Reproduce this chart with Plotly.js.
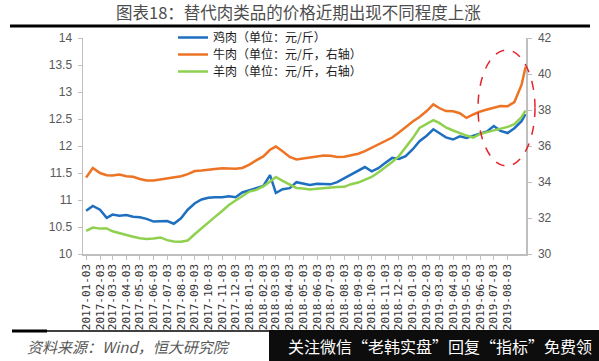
<!DOCTYPE html>
<html>
<head>
<meta charset="utf-8">
<script src="https://cdn.plot.ly/plotly-3.0.1.min.js"></script>
<style>
html,body{margin:0;padding:0;background:#fff;}
#chart{width:599px;height:361px;}
</style>
</head>
<body>
<div id="chart"></div>
<script>
const dates = [
'2017-01-03','2017-01-18','2017-02-03','2017-02-18','2017-03-03','2017-03-18','2017-04-03','2017-04-18',
'2017-05-03','2017-05-18','2017-06-03','2017-06-18','2017-07-03','2017-07-18','2017-08-03','2017-08-18',
'2017-09-03','2017-09-18','2017-10-03','2017-10-18','2017-11-03','2017-11-18','2017-12-03','2017-12-18',
'2018-01-03','2018-01-18','2018-02-03','2018-02-18','2018-03-03','2018-03-18','2018-04-03','2018-04-18',
'2018-05-03','2018-05-18','2018-06-03','2018-06-18','2018-07-03','2018-07-18','2018-08-03','2018-08-18',
'2018-09-03','2018-09-18','2018-10-03','2018-10-18','2018-11-03','2018-11-18','2018-12-03','2018-12-18',
'2019-01-03','2019-01-18','2019-02-03','2019-02-18','2019-03-03','2019-03-18','2019-04-03','2019-04-18',
'2019-05-03','2019-05-18','2019-06-03','2019-06-18','2019-07-03','2019-07-18','2019-08-03','2019-08-18',
'2019-09-03','2019-09-12'
];

// 鸡肉 (left axis)
const chicken = [
10.80,10.89,10.82,10.67,10.73,10.71,10.72,10.69,10.68,10.65,10.60,10.61,10.61,10.56,10.66,10.82,
10.94,11.01,11.04,11.05,11.05,11.07,11.05,11.14,11.18,11.21,11.26,11.46,11.13,11.20,11.22,11.33,
11.30,11.28,11.30,11.30,11.29,11.33,11.40,11.47,11.54,11.61,11.53,11.59,11.69,11.78,11.76,11.81,
11.94,12.09,12.19,12.31,12.24,12.16,12.12,12.18,12.15,12.19,12.24,12.27,12.37,12.28,12.24,12.33,
12.46,12.59
];

// 牛肉 (right axis)
const beef = [
34.25,34.78,34.50,34.38,34.36,34.42,34.32,34.29,34.17,34.08,34.09,34.14,34.18,34.27,34.32,34.44,
34.61,34.64,34.66,34.72,34.76,34.76,34.73,34.78,34.97,35.20,35.42,35.79,35.97,35.71,35.39,35.25,
35.31,35.33,35.42,35.47,35.46,35.39,35.40,35.47,35.57,35.72,35.90,36.06,36.25,36.47,36.75,37.06,
37.36,37.61,37.94,38.31,38.11,37.94,37.93,37.82,37.56,37.75,37.92,38.03,38.14,38.22,38.21,38.44,
39.39,40.39
];

// 羊肉 (right axis)
const mutton = [
31.29,31.47,31.41,31.42,31.26,31.15,31.04,30.96,30.87,30.83,30.86,30.92,30.77,30.69,30.68,30.75,
31.11,31.44,31.72,32.06,32.39,32.72,32.97,33.19,33.47,33.56,33.75,34.03,34.28,34.06,33.86,33.67,
33.64,33.58,33.63,33.67,33.69,33.72,33.73,33.88,33.97,34.14,34.28,34.53,34.81,35.11,35.44,35.92,
36.44,37.00,37.22,37.43,37.28,37.03,36.86,36.71,36.58,36.47,36.67,36.77,36.86,36.96,37.06,37.21,
37.61,37.97
];

const tickLabels = [
'2017-01-03','2017-02-03','2017-03-03','2017-04-03','2017-05-03','2017-06-03','2017-07-03','2017-08-03',
'2017-09-03','2017-10-03','2017-11-03','2017-12-03','2018-01-03','2018-02-03','2018-03-03','2018-04-03',
'2018-05-03','2018-06-03','2018-07-03','2018-08-03','2018-09-03','2018-10-03','2018-11-03','2018-12-03',
'2019-01-03','2019-02-03','2019-03-03','2019-04-03','2019-05-03','2019-06-03','2019-07-03','2019-08-03'
];

const seriesNames = ['鸡肉（单位：元/斤）','牛肉（单位：元/斤，右轴）','羊肉（单位：元/斤，右轴）'];

const traces = [
  {x: dates, y: chicken, name: seriesNames[0], type: 'scatter', mode: 'lines', yaxis: 'y', legend: 'legend',
   line: {color: '#1f6fc0', width: 2.5}},
  {x: dates, y: beef, name: seriesNames[1], type: 'scatter', mode: 'lines', yaxis: 'y2', legend: 'legend2',
   line: {color: '#ec7424', width: 2.5}},
  {x: dates, y: mutton, name: seriesNames[2], type: 'scatter', mode: 'lines', yaxis: 'y2', legend: 'legend3',
   line: {color: '#8fd14f', width: 2.5}}
];

const L = 83, R = 526, T = 38, B = 254;
const px = v => (v - L) / (R - L);
const py = v => (B - v) / (B - T);

const tickFont = {family: 'Liberation Sans, Arial, sans-serif', size: 12, color: '#595959'};
const legendFont = {family: 'Noto Sans CJK SC, sans-serif', size: 12, color: '#1a1a1a'};
const mkLegend = top => ({x: px(173), y: py(top), xanchor: 'left', yanchor: 'top',
  bgcolor: 'rgba(0,0,0,0)', borderwidth: 0, font: legendFont});

const layout = {
  width: 599, height: 361,
  margin: {l: L, r: 599 - R, t: T, b: 361 - B, pad: 0},
  paper_bgcolor: '#ffffff', plot_bgcolor: '#ffffff',
  showlegend: true,
  legend: mkLegend(23),
  legend2: mkLegend(40),
  legend3: mkLegend(57),
  xaxis: {type: 'date', range: ['2016-12-27', '2019-09-13'],
          tickvals: tickLabels, ticktext: tickLabels, tickangle: -90,
          tickfont: {family: 'DejaVu Sans Mono, monospace', size: 11, color: '#333333'},
          showline: true, linecolor: '#bfbfbf', linewidth: 1.5,
          ticks: 'outside', ticklen: 4, tickcolor: '#bfbfbf',
          showgrid: false, zeroline: false, fixedrange: true},
  yaxis: {range: [10, 14], dtick: 0.5, tick0: 10,
          tickfont: tickFont, showline: true, linecolor: '#bfbfbf', linewidth: 1.5,
          ticks: 'outside', ticklen: 4, tickcolor: '#bfbfbf', ticklabelstandoff: 3,
          showgrid: false, zeroline: false},
  yaxis2: {range: [30, 42], dtick: 2, tick0: 30, overlaying: 'y', side: 'right',
           tickfont: tickFont, showline: true, linecolor: '#bfbfbf', linewidth: 1.5,
           ticks: 'outside', ticklen: 4, tickcolor: '#bfbfbf', ticklabelstandoff: 4,
           showgrid: false, zeroline: false},
  shapes: [
    {type: 'line', xref: 'paper', yref: 'paper', x0: px(10), x1: px(590), y0: py(26), y1: py(26),
     line: {color: '#000000', width: 3}},
    {type: 'line', xref: 'paper', yref: 'paper', x0: px(12), x1: px(47), y0: py(331), y1: py(331),
     line: {color: '#000000', width: 3}},
    {type: 'line', xref: 'paper', yref: 'paper', x0: px(47), x1: px(270), y0: py(331), y1: py(331),
     line: {color: '#000000', width: 1.5}},
    {type: 'rect', xref: 'paper', yref: 'paper', x0: px(269), x1: px(600), y0: py(362), y1: py(330),
     fillcolor: '#0d0d0d', line: {width: 0}},
    {type: 'circle', xref: 'paper', yref: 'paper', x0: px(478), x1: px(535), y0: py(166), y1: py(50),
     line: {color: '#e3242b', width: 1.5, dash: 'dash'}}
  ],
  annotations: [
    {text: '图表18：替代肉类品的价格近期出现不同程度上涨', xref: 'paper', yref: 'paper',
     x: px(298), y: py(12), xanchor: 'center', yanchor: 'middle', showarrow: false,
     font: {family: 'Noto Sans CJK SC, sans-serif', size: 16.5, color: '#4d4d4d'}},
    {text: '资料来源：Wind，恒大研究院', xref: 'paper', yref: 'paper',
     x: px(25), y: py(346), xanchor: 'left', yanchor: 'middle', showarrow: false,
     font: {family: 'Noto Sans CJK SC, sans-serif', size: 15, color: '#595959', style: 'italic'}},
    {text: '关注微信“老韩实盘”回复“指标”免费领', xref: 'paper', yref: 'paper',
     x: px(440), y: py(346), xanchor: 'center', yanchor: 'middle', showarrow: false,
     font: {family: 'Noto Sans CJK SC, sans-serif', size: 16, color: '#ffffff'}}
  ]
};

Plotly.newPlot('chart', traces, layout, {staticPlot: true, displayModeBar: false});
</script>
</body>
</html>
